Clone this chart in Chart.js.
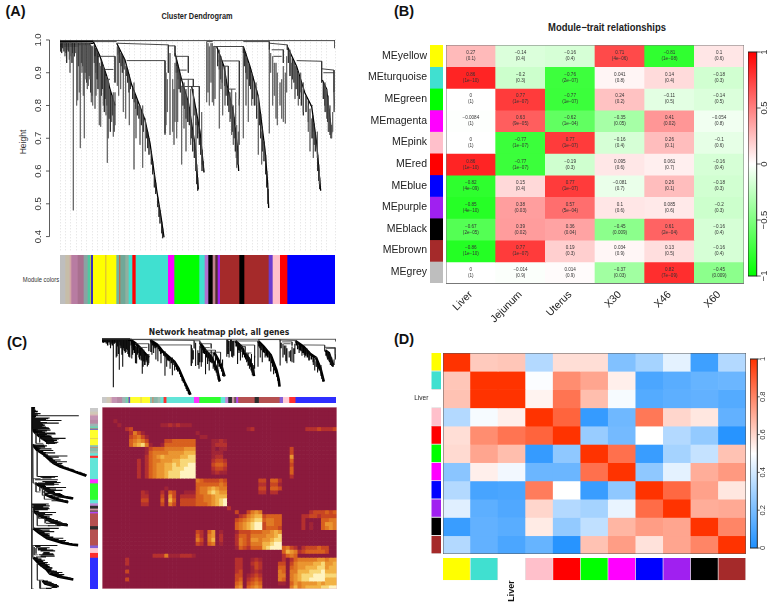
<!DOCTYPE html>
<html>
<head>
<meta charset="utf-8">
<title>WGCNA module figure</title>
<script src="https://cdn.jsdelivr.net/npm/chart.js@4/dist/chart.umd.min.js"></script>
<style>
  html, body { margin: 0; background: #fff; }
  body { position: relative; width: 777px; height: 605px; overflow: hidden; font-family: "Liberation Sans", sans-serif; }
  canvas { position: absolute; filter: blur(.3px); }
  .tag { position: absolute; white-space: nowrap; color: #111; transform: translate(-50%, -50%); }
</style>
</head>
<body>
<script>
// ---- dendrogram (same gene tree is used in panels A and C), x = leaf position, h = height
const leafCount = 825;
const heightTicks = [0.4, 0.5, 0.6, 0.7, 0.8, 0.9, 1.0];

const treeTrunks = [
  [[0, .996], [100, .996]],
  [[0, .991], [100, .99]],
  [[0, .986], [90, .986]],
  [[0, .981], [55, .981]],
  [[100, .995], [120, .95], [140, .89], [150, .85], [165, .80]],
  [[170, .99], [195, .939], [215, .863], [240, .797], [255, .756], [270, .685], [290, .542], [303, .461], [312, .398]],
  [[345, .96], [365, .878], [385, .81], [405, .68], [415, .544]],
  [[395, .858], [420, .72], [432, .596]],
  [[470, .98], [492, .919], [502, .858], [520, .78], [532, .675], [536, .60]],
  [[550, .98], [570, .919], [595, .827], [615, .665], [623, .563], [626, .487]],
  [[682, .98], [710, .919], [735, .837], [755, .797], [770, .685], [782, .54]],
  [[787, .878], [800, .85], [815, .715]]
];

const treeBrackets = [
  [[0, .998], [825, .998], [825, .975]],
  [[102, .995], [170, .995]],
  [[170, .99], [325, .985], [325, .90]],
  [[200, .937], [315, .937], [315, .715]],
  [[325, .982], [345, .982], [345, .95]],
  [[345, .95], [385, .95], [385, .90]],
  [[360, .908], [380, .908]],
  [[360, .88], [400, .88], [400, .858]],
  [[365, .858], [418, .858], [418, .715], [432, .596]],
  [[112, .95], [165, .95], [165, .87]],
  [[125, .91], [160, .91]],
  [[135, .88], [150, .88]],
  [[440, .995], [458, .995]],
  [[460, .98], [550, .98], [550, .96]],
  [[475, .936], [538, .936], [538, .80]],
  [[490, .92], [505, .92], [505, .85]],
  [[505, .85], [527, .85]],
  [[550, .995], [628, .995], [628, .97]],
  [[628, .99], [682, .985], [682, .97]],
  [[635, .97], [670, .97], [670, .93]],
  [[640, .95], [665, .95]],
  [[710, .937], [785, .935], [785, .87]],
  [[785, .912], [822, .908], [822, .84]],
  [[790, .90], [822, .90]],
  [[822, .84], [825, .78]],
  [[750, .80], [758, .80]]
];

// leaf drops: position, top height, bottom height
const dropLeaf = [10, 15, 22, 28, 30, 33, 40, 47, 50, 53, 58, 61, 66, 70, 73, 78, 82, 85, 90, 94, 98, 105, 108, 118, 122, 130, 138, 142, 145, 148, 155, 160, 165,
  172, 176, 182, 190, 197, 208, 222, 228, 240, 248, 256,
  315, 318, 322, 330, 338, 342, 345, 350, 353, 365, 372, 378, 385, 392, 400, 408, 425,
  440, 444, 448, 453, 457, 461, 465, 478, 483, 488, 495, 510, 515, 520, 527, 530, 535, 538,
  550, 558, 565, 575, 588, 595, 605,
  628, 632, 638, 643, 648, 652, 660, 665, 670, 676, 680, 690, 695, 705, 715, 722, 730, 745, 750, 755, 760, 772, 778, 795, 800, 805, 810, 815, 818, 822];
const dropTop = [.99, .99, .99, .99, .99, .99, .99, .99, .99, .99, .99, .99, .99, .99, .99, .99, .99, .99, .99, .98, .98, .95, .92, .93, .92, .92, .89, .88, .88, .85, .83, .84, .84,
  .98, .96, .94, .93, .92, .87, .87, .82, .80, .80, .76,
  .93, .90, .88, .96, .88, .85, .93, .92, .90, .86, .87, .85, .88, .85, .85, .75, .78,
  .995, .99, .98, .99, .99, .98, .98, .97, .95, .92, .92, .84, .85, .80, .84, .74, .72, .82,
  .96, .95, .93, .90, .87, .83, .72,
  .97, .96, .95, .93, .93, .90, .87, .88, .92, .90, .95, .97, .93, .92, .90, .90, .87, .80, .79, .76, .72, .72, .60, .87, .85, .83, .80, .74, .78, .84];
const dropBottom = [.975, .95, .97, .94, .90, .95, .48, .96, .80, .816, .84, .67, .90, .83, .70, .88, .85, .86, .88, .81, .80, .79, .83, .74, .735, .80, .77, .625, .70, .76, .75, .705, .74,
  .86, .83, .85, .78, .76, .74, .605, .70, .68, .61, .66,
  .71, .74, .78, .71, .72, .68, .75, .70, .75, .62, .73, .66, .75, .68, .70, .60, .60,
  .81, .84, .80, .87, .81, .80, .82, .73, .85, .77, .80, .75, .71, .68, .74, .61, .62, .68,
  .70, .80, .75, .80, .80, .65, .62,
  .715, .90, .80, .83, .76, .74, .80, .76, .75, .745, .84, .90, .85, .82, .80, .84, .78, .72, .66, .70, .64, .64, .56, .78, .76, .72, .71, .70, .72, .78];

// short dark fringe hanging off the trunks: position, top, bottom
const treeFringe = [
  [2, .99, .965], [5, .99, .96], [8, .99, .975], [12, .99, .965], [18, .99, .96], [20, .99, .93], [25, .99, .965], [36, .99, .93], [38, .99, .96], [43, .99, .95], [55, .99, .92], [64, .99, .93], [68, .99, .92], [75, .99, .90], [80, .99, .87], [87, .99, .89], [92, .985, .84], [96, .98, .83],
  [103, .985, .93], [107, .975, .90], [111, .97, .88], [114, .96, .85], [124, .94, .83], [127, .93, .85], [133, .91, .78], [136, .90, .82], [141, .885, .80], [146, .87, .76], [151, .845, .72], [157, .83, .77], [162, .81, .72],
  [174, .98, .955], [178, .972, .93], [183, .96, .92], [187, .955, .90], [192, .945, .91], [199, .925, .89], [203, .91, .87], [207, .895, .84], [211, .88, .85], [218, .855, .82], [223, .84, .81], [227, .83, .79], [232, .815, .77], [237, .80, .76], [244, .785, .74], [250, .77, .72], [259, .735, .70], [263, .72, .67], [267, .70, .65], [274, .66, .62], [278, .63, .59], [283, .59, .55], [287, .565, .53], [293, .52, .49], [297, .495, .46], [300, .48, .44], [305, .445, .41], [308, .425, .395],
  [349, .945, .90], [353, .925, .88], [357, .91, .85], [361, .895, .84], [369, .865, .80], [374, .845, .79], [378, .83, .76], [383, .815, .75], [388, .795, .74], [394, .755, .70], [398, .725, .66], [403, .695, .64], [407, .665, .60], [410, .62, .56], [413, .58, .54],
  [402, .82, .77], [408, .79, .74], [413, .76, .70], [418, .73, .68], [422, .70, .65], [426, .665, .62], [429, .63, .60],
  [473, .97, .92], [478, .955, .91], [482, .945, .88], [487, .93, .87], [494, .905, .86], [498, .88, .83], [503, .85, .80], [507, .84, .78], [512, .815, .76], [517, .795, .72], [522, .765, .70], [526, .73, .66], [529, .70, .64], [533, .66, .62],
  [553, .97, .92], [557, .96, .90], [561, .945, .88], [568, .925, .86], [572, .91, .85], [578, .89, .82], [583, .87, .80], [590, .845, .76], [598, .805, .74], [602, .775, .70], [607, .735, .66], [612, .69, .63], [617, .65, .59], [620, .60, .55], [624, .545, .50],
  [685, .97, .93], [690, .96, .89], [697, .945, .88], [702, .935, .87], [708, .92, .85], [713, .905, .83], [718, .89, .82], [724, .87, .80], [730, .85, .77], [738, .83, .78], [745, .815, .75], [758, .77, .70], [762, .745, .68], [766, .715, .66], [773, .65, .60], [776, .62, .57], [779, .58, .545],
  [790, .87, .82], [794, .86, .80], [798, .85, .78], [803, .825, .75], [807, .79, .72], [811, .76, .71], [813, .74, .70]
];

// module colour bar under the tree, in leaf positions
const stripColors = ['#bebebe', '#c6bda8', '#d3a5a5', '#b87ca2', '#a9708f', '#8aa3a3', '#4fc9a0', '#d8c820', '#3a30c0', '#ffff00', '#d8b040', '#ffff00', '#6fb3a2', '#c0704a', '#70a898', '#8fb0a0', '#40e0d0', '#ff0000',
  '#40e0d0', '#ff00ff', '#00ff00', '#40e0d0', '#b070d0', '#000000', '#c08090', '#503030', '#a020f0', '#a52a2a', '#000000', '#a52a2a', '#6a3ccf', '#ffc0cb', '#ff0000', '#0000ff'];
const stripWidths = [15, 13, 5, 19, 18, 12, 8, 2, 6, 37, 3, 30, 8, 4, 15, 10, 11, 10,
  97, 19, 75, 16, 11, 13, 8, 7, 7, 58, 15, 73, 12, 22, 22, 144];

// ---- panel B
const traitNames = ['Liver', 'Jejunum', 'Uterus', 'X30', 'X46', 'X60'];
const moduleNames = ['MEyellow', 'MEturquoise', 'MEgreen', 'MEmagenta', 'MEpink', 'MEred', 'MEblue', 'MEpurple', 'MEblack', 'MEbrown', 'MEgrey'];
const moduleSwatches = ['#ffff00', '#40e0d0', '#00ff00', '#ff00ff', '#ffc0cb', '#ff0000', '#0000ff', '#a020f0', '#000000', '#a52a2a', '#bebebe'];
const traitCor = [
  [0.27, -0.14, -0.16, 0.71, -0.81, 0.1],
  [0.86, -0.2, -0.76, 0.041, 0.14, -0.18],
  [0, 0.77, -0.77, 0.24, -0.11, -0.14],
  [-0.0084, 0.63, -0.62, -0.35, 0.41, -0.054],
  [0, -0.77, 0.77, -0.16, 0.26, -0.1],
  [0.86, -0.77, -0.19, 0.095, 0.061, -0.16],
  [-0.82, 0.15, 0.77, -0.081, 0.26, -0.18],
  [-0.85, 0.38, 0.57, 0.1, 0.085, -0.2],
  [-0.67, 0.39, 0.36, -0.45, 0.61, -0.16],
  [-0.86, 0.77, 0.19, 0.034, 0.13, -0.16],
  [0, -0.014, 0.014, -0.37, 0.82, -0.45]
];
const traitP = [
  ['0.1', '0.4', '0.4', '4e-06', '1e-08', '0.6'],
  ['1e-10', '0.3', '2e-07', '0.8', '0.4', '0.3'],
  ['1', '1e-07', '1e-07', '0.2', '0.5', '0.5'],
  ['1', '9e-05', '1e-04', '0.05', '0.02', '0.8'],
  ['1', '1e-07', '1e-07', '0.4', '0.1', '0.6'],
  ['1e-10', '1e-07', '0.3', '0.6', '0.7', '0.4'],
  ['4e-09', '0.4', '1e-07', '0.7', '0.1', '0.3'],
  ['4e-10', '0.03', '5e-04', '0.6', '0.6', '0.3'],
  ['2e-05', '0.02', '0.04', '0.009', '2e-04', '0.4'],
  ['1e-10', '1e-07', '0.3', '0.9', '0.5', '0.4'],
  ['1', '0.9', '0.9', '0.03', '7e-09', '0.009']
];
const corBarTicks = [-1, -0.5, 0, 0.5, 1];

// ---- panel C, TOM levels 0-9 per cell (rows top to bottom, groups of ten columns)
const tomPalette = ['#8b1a3d', '#a02436', '#b5302e', '#c84622', '#d8601e', '#e07a24', '#ea9530', '#f2b345', '#f8d878', '#fff3c0'];
const tomRows = [
  '',
  '',
  '',
  '0001000000',
  '0000100000 0000011212 1110000000',
  '0000002300 0000000000 0000000000 0000000120 0000000000 0022232223',
  '0000000253 1000000000 0000100000',
  '0000000345 3100000000 0000011000',
  '0000000456 5300003344 4444000011 2100000000',
  '0000000467 8510014444 4444000012 2200000000',
  '0000000000 0134445555 5666000010 1100000000 0000000030',
  '0000000000 0145555666 6777000011 1000000000 0000000030',
  '0000000000 0245676666 7788000012 2000000000 0000000060',
  '0000000002 0245566677 8888000023 3200000000 0000000040',
  '0000000002 0245667787 8899000034 4300000000 0000000030',
  '0000000002 0245667788 8999000023 3200000000 0000000040',
  '0000000002 0245667888 9999000012 1100000000 0000000040',
  '0000000002 0245667888 9999000000 0000000000 0000000020',
  '0000000000 0000000000 0000543333 4300000000 3304420000',
  '0000000000 0000000000 0000444444 5400000000 2203310000',
  '0000000000 0000001000 0000455676 5500000000 3304430000',
  '0000000000 2100020430 0111455787 6600000000 2202200000',
  '0000000000 2200030630 2222445567 7700000000',
  '0000000000 3300040740 3333445567 8900000000',
  '0000000000 2200030530 3333444567 8900000000',
  '0000000000 0000000000 0000000000 0020000000',
  '0000000000 0000000000 0000000000 0000300356 5000000000 0002333434',
  '0000000000 0000000000 0000000000 0000023567 7344440000 0223323333',
  '0000000000 0000000000 0000000000 0000345678 8455440000 0200004455',
  '0000000000 0000000000 0000000000 0000456789 9355440000 0201004665',
  '0000000000 0000000000 0000000000 0000456789 9344430000 0201004565',
  '0000000000 0000000000 0000320460 1000133344 4556760000',
  '0000000000 0000000000 0000420560 2000244355 5566780000',
  '0000000000 0000000000 0000530570 2000254366 5667880000',
  '0000000000 0000000000 0000320450 1000254355 5778990000',
  '0000000000 0000000000 0000000000 0000143244 4789994532 0233343300',
  '0000000000 0000000000 0000000000 0000000000 0000004765 2344444300',
  '0000000000 0002225111 2221000000 0000000000 0000002454',
  '0000002000 0000000000 0000000000 0000220012 1000002024 5555566566',
  '0000002000 0000000000 0000000000 0000220023 2000033035 6666778667',
  '0000000000 0000000000 0000000000 0000220013 2000044045 6677788677',
  '0000003000 0000000000 0000000000 0000230012 1000054055 7778889777',
  '0000000000 0000000000 0000000000 0000330123 2000055056 7888999888',
  '0000003000 0000000000 0000000000 0000340234 3000054056 7889999777',
  '0000000000 0000000000 0000000000 0000450345 4000011046 5666676777',
  '0000000000 0000000000 0000000000 0000560456 5000000057 5677778899'
];
const tomColumns = 60;

// ---- panel D
const adjSwatches = ['#ffff00', '#40e0d0', '#ffffff', '#ffc0cb', '#ff0000', '#00ff00', '#ff00ff', '#0000ff', '#a020f0', '#000000', '#a52a2a'];
const adjLabels = ['', '', 'Liver', '', '', '', '', '', '', '', ''];
const adjMatrix = [
  [1, .63, .64, .33, .58, .58, .22, .3, .44, .07, .33],
  [.64, 1, 1, .49, .78, .72, .54, .1, .13, .16, .17],
  [.65, 1, 1, .53, .84, .66, .48, .12, .14, .15, .12],
  [.33, .48, .54, 1, .88, .05, .18, .83, .6, .56, .15],
  [.58, .78, .84, .88, 1, .27, .19, .5, .33, .26, .02],
  [.59, .72, .66, .05, .25, 1, .85, .06, .3, .37, .65],
  [.24, .54, .47, .17, .17, .85, 1, .25, .44, .7, .75],
  [.33, .09, .1, .82, .5, .06, .25, 1, .87, .73, .56],
  [.43, .14, .11, .6, .33, .3, .45, .86, 1, .7, .71],
  [.06, .15, .13, .55, .26, .36, .68, .74, .72, 1, .8],
  [.33, .15, .1, .16, .02, .65, .74, .57, .72, .8, 1]
];
const adjBarTicks = [0, 0.2, 0.4, 0.6, 0.8, 1];

// ---- helpers
const FONT = '"Liberation Sans", Arial, sans-serif';

function mix(a, b, t) {
  const v = a.map((c, i) => Math.round(c + (b[i] - c) * t));
  return `rgb(${v[0]},${v[1]},${v[2]})`;
}
function corColor(v) {
  return v < 0 ? mix([255, 255, 255], [0, 255, 0], -v) : mix([255, 255, 255], [255, 0, 0], v);
}
function adjColor(v) {
  return v < 0.5 ? mix([30, 144, 255], [255, 255, 255], v / 0.5) : mix([255, 255, 255], [255, 51, 0], (v - 0.5) / 0.5);
}

// R style axis: line only between first and last tick, rotated labels, box around plot
Chart.register({
  id: 'rAxis',
  afterDraw(chart, args, o) {
    const ctx = chart.ctx, a = chart.chartArea;
    if (o.box) {
      ctx.save();
      ctx.strokeStyle = o.box;
      ctx.lineWidth = o.boxWidth || 1;
      ctx.strokeRect(a.left, a.top, a.width, a.height);
      ctx.restore();
    }
    if (!o.axis) return;
    const s = chart.scales[o.axis];
    const dir = o.side === 'left' ? -1 : 1;
    const x0 = (o.side === 'left' ? a.left : a.right) + dir * o.gap;
    const px = s.ticks.map(t => s.getPixelForValue(t.value));
    ctx.save();
    ctx.strokeStyle = o.color;
    ctx.fillStyle = o.color;
    ctx.lineWidth = 0.8;
    ctx.beginPath();
    if (o.gap > 0) {
      ctx.moveTo(x0, px[0]);
      ctx.lineTo(x0, px[px.length - 1]);
    }
    px.forEach(p => { ctx.moveTo(x0, p); ctx.lineTo(x0 + dir * o.tick, p); });
    ctx.stroke();
    ctx.font = o.font;
    ctx.textAlign = 'center';
    ctx.textBaseline = 'middle';
    s.ticks.forEach((t, i) => {
      ctx.save();
      ctx.translate(x0 + dir * o.label, px[i]);
      ctx.rotate(-Math.PI / 2);
      const txt = (o.decimals ? t.value.toFixed(o.decimals) : String(t.value)).replace('-', '\u2212');
      ctx.fillText(txt, 0, 0);
      ctx.restore();
    });
    ctx.restore();
  }
});

// correlation and p value text in the cells of panel B
const cellText = {
  id: 'cellText',
  afterDatasetsDraw(chart) {
    const { ctx, scales } = chart;
    ctx.save();
    ctx.font = '4.6px ' + FONT;
    ctx.fillStyle = '#333';
    ctx.textAlign = 'center';
    ctx.textBaseline = 'middle';
    traitCor.forEach((row, r) => row.forEach((v, c) => {
      const x = scales.x.getPixelForValue(c), y = scales.y.getPixelForValue(r + 0.5);
      ctx.fillText(String(v).replace('-', '\u2212'), x, y - 3);
      ctx.fillText('(' + traitP[r][c].replace('-', '\u2212') + ')', x, y + 3);
    }));
    ctx.restore();
  }
};

function addChart(left, top, width, height, config, css) {
  const canvas = document.createElement('canvas');
  canvas.width = width;
  canvas.height = height;
  canvas.style.left = left + 'px';
  canvas.style.top = top + 'px';
  if (css) Object.assign(canvas.style, css);
  document.body.appendChild(canvas);
  const opts = config.options || {};
  opts.responsive = false;
  opts.animation = false;
  opts.devicePixelRatio = 1;
  opts.plugins = Object.assign({ legend: { display: false }, tooltip: { enabled: false } }, opts.plugins);
  opts.layout = opts.layout || { padding: 0 };
  config.options = opts;
  return new Chart(canvas, config);
}

function addText(text, x, y, css) {
  const d = document.createElement('div');
  d.className = 'tag';
  d.textContent = text;
  d.style.cssText = `left:${x}px;top:${y}px;` + css;
  document.body.appendChild(d);
}

function hiddenScale(extra) {
  return Object.assign({ display: false, grid: { display: false } }, extra);
}

// tree as line datasets, swap = lay it on its side
function treeDatasets(swap, widths) {
  const toPoints = lines => {
    const pts = [];
    lines.forEach(line => {
      line.forEach(p => pts.push(swap ? { x: p[1], y: p[0] } : { x: p[0], y: p[1] }));
      pts.push(swap ? { x: null, y: line[0][0] } : { x: line[0][0], y: null });
    });
    return pts;
  };
  const dropLines = dropLeaf.map((x, i) => [[x, dropTop[i]], [x, dropBottom[i]]]);
  const fringeLines = treeFringe.map(f => [[f[0], f[1]], [f[0], f[2]]]);
  const line = (lines, color, w) => ({ data: toPoints(lines), borderColor: color, borderWidth: w, showLine: true, pointRadius: 0, spanGaps: false });
  return [
    line(dropLines, widths.dropColor, widths.drop),
    line(fringeLines, widths.fringeColor, widths.fringe),
    line(treeBrackets, '#333', widths.bracket),
    line(treeTrunks, '#000', widths.trunk)
  ];
}

// one stacked bar per strip, horizontal or vertical
function stripChart(left, top, width, height, vertical, css) {
  const datasets = stripColors.map((c, i) => ({ data: [stripWidths[i]], backgroundColor: c, stack: 'm', barPercentage: 1, categoryPercentage: 1 }));
  const total = stripWidths.reduce((a, b) => a + b, 0);
  const valueScale = hiddenScale({ stacked: true, min: 0, max: total, reverse: vertical });
  const catScale = hiddenScale({ stacked: true });
  addChart(left, top, width, height, {
    type: 'bar',
    data: { labels: ['modules'], datasets },
    options: {
      indexAxis: vertical ? 'x' : 'y',
      scales: vertical ? { x: catScale, y: valueScale } : { x: valueScale, y: catScale }
    }
  }, css);
}

// heat cells are stacked unit bars, one dataset per row, coloured by the matrix value
function heatDatasets(nRows, nCols, colorAt) {
  const datasets = [];
  for (let r = 0; r < nRows; r++) {
    const fills = [];
    for (let c = 0; c < nCols; c++) fills.push(colorAt(r, c));
    datasets.push({ data: fills.map(() => 1), backgroundColor: fills, barPercentage: 1, categoryPercentage: 1 });
  }
  return datasets;
}

function columnLabels(n) {
  return Array.from({ length: n }, (_, i) => String(i));
}

// swatch column with row names on its left, canvas is 10px taller each way for the label overhang
function swatchColumn(left, top, width, height, colors, labels, labelRoom, font, border) {
  addChart(left, top - 10, width, height + 20, {
    type: 'bar',
    data: {
      labels: ['swatch'],
      datasets: colors.map(c => ({ data: [1], backgroundColor: c, barPercentage: 1, categoryPercentage: 1, borderColor: border || c, borderWidth: border ? { bottom: 1 } : 0 }))
    },
    options: {
      layout: { padding: { top: 10, bottom: 10 } },
      scales: {
        x: hiddenScale({ stacked: true }),
        y: {
          stacked: true, reverse: true, min: 0, max: colors.length,
          position: 'left',
          border: { display: false },
          grid: { display: false, drawTicks: false },
          afterBuildTicks: s => { s.ticks = labels.map((_, i) => ({ value: i + 0.5 })); },
          afterFit: s => { s.width = labelRoom; },
          ticks: { autoSkip: false, padding: 3, color: '#222', font, callback: (v, i) => labels[i] }
        }
      }
    }
  });
}

function colorBar(left, top, width, height, plotWidth, pad, stops, tickValues, min, max, font, labelAt, tickLen, decimals) {
  addChart(left, top, width, height, {
    type: 'bar',
    data: {
      labels: ['scale'],
      datasets: [{
        data: [[min, max]],
        barPercentage: 1,
        categoryPercentage: 1,
        backgroundColor: ctx => {
          const a = ctx.chart.chartArea;
          if (!a) return stops[0];
          const g = ctx.chart.ctx.createLinearGradient(0, a.bottom, 0, a.top);
          stops.forEach((c, i) => g.addColorStop(i / (stops.length - 1), c));
          return g;
        }
      }]
    },
    options: {
      layout: { padding: { top: pad, bottom: pad, left: 0, right: width - plotWidth } },
      scales: {
        x: hiddenScale(),
        y: {
          display: true, min, max,
          border: { display: false },
          grid: { display: false, drawTicks: false },
          afterBuildTicks: s => { s.ticks = tickValues.map(v => ({ value: v })); },
          afterFit: s => { s.width = 0; },
          ticks: { display: false }
        }
      },
      plugins: { rAxis: { box: '#222', axis: 'y', side: 'right', gap: 0, tick: tickLen, label: labelAt, font, color: '#333', decimals } }
    }
  });
}

// ---- panel A
addText('(A)', 15.5, 11, 'font:bold 14.5px ' + FONT);
addText('Cluster Dendrogram', 197, 16, 'font:bold 9.2px ' + FONT + ';color:#222;transform:translate(-50%,-50%) scaleX(.8)');
addText('Height', 22.7, 142, 'font:8.5px ' + FONT + ';transform:translate(-50%,-50%) rotate(-90deg);color:#333');
addText('Module colors', 40.5, 279, 'font:7.5px ' + FONT + ';color:#333;transform:translate(-50%,-50%) scaleX(.78)');

const treeLookA = { drop: 0.6, dropColor: '#555', fringe: 0.7, fringeColor: '#222', bracket: 0.9, trunk: 1.3 };
addChart(0, 0, 340, 255, {
  type: 'scatter',
  data: { datasets: treeDatasets(false, treeLookA) },
  options: {
    layout: { padding: { left: 60, top: 39.3, right: 5, bottom: 2.7 } },
    scales: {
      x: {
        type: 'linear', min: 0, max: leafCount,
        border: { display: false, dash: [1, 2] },
        grid: { color: '#dedede', drawTicks: false },
        afterFit: s => { s.height = 0; },
        ticks: { display: false, stepSize: 16, autoSkip: false, maxTicksLimit: 100 }
      },
      y: {
        min: 0.352, max: 1.002,
        border: { display: false },
        grid: { display: false, drawTicks: false },
        afterBuildTicks: s => { s.ticks = heightTicks.map(v => ({ value: v })); },
        afterFit: s => { s.width = 0; },
        ticks: { display: false }
      }
    },
    plugins: { rAxis: { axis: 'y', side: 'left', gap: 10.5, tick: 3.5, label: 11.5, font: '9.5px ' + FONT, color: '#333', decimals: 1 } }
  }
});
stripChart(60, 255, 275, 49, false);

// ---- panel B
addText('(B)', 404, 11, 'font:bold 14.5px ' + FONT);
addText('Module\u2212trait relationships', 606.7, 26.7, 'font:bold 10.5px ' + FONT + ';color:#222;transform:translate(-50%,-50%) scaleX(.9)');
swatchColumn(360, 44.5, 83.3, 238.5, moduleSwatches, moduleNames, 70, { size: 10.5, family: FONT });
addChart(446, 44.5, 298.5, 282, {
  type: 'bar',
  data: {
    labels: traitNames,
    datasets: heatDatasets(moduleNames.length, traitNames.length, (r, c) => corColor(traitCor[r][c]))
  },
  options: {
    scales: {
      x: {
        stacked: true,
        border: { display: false },
        grid: { display: false, drawTicks: false },
        afterFit: s => { s.height = 43.5; },
        ticks: { minRotation: 45, maxRotation: 45, padding: 5, color: '#222', font: { size: 10.5, family: FONT } }
      },
      y: hiddenScale({ stacked: true, reverse: true, min: 0, max: moduleNames.length })
    },
    plugins: { rAxis: { box: '#777', boxWidth: 1 } }
  },
  plugins: [cellText]
});
colorBar(748.3, 41.7, 28.7, 244.3, 9.4, 10, ['#00ff00', '#ffffff', '#ff0000'], corBarTicks, -1, 1, '9.5px ' + FONT, 7.5, 4);

// ---- panel C
addText('(C)', 17, 341.6, 'font:bold 14.5px ' + FONT);
addText('Network heatmap plot, all genes', 219, 331.7, 'font:bold 8px "DejaVu Sans",' + FONT + ';color:#222;transform:translate(-50%,-50%) scaleX(.95)');

const treeLookC = { drop: 1.1, dropColor: '#111', fringe: 1.5, fringeColor: '#000', bracket: 0.8, trunk: 2.6 };
addChart(102, 338, 234, 58, {
  type: 'scatter',
  data: { datasets: treeDatasets(false, treeLookC) },
  options: {
    scales: {
      x: hiddenScale({ type: 'linear', min: 0, max: leafCount }),
      y: hiddenScale({ min: 0.385, max: 1.012 })
    }
  }
});
addChart(31, 407, 56, 182, {
  type: 'scatter',
  data: { datasets: treeDatasets(true, treeLookC) },
  options: {
    scales: {
      x: hiddenScale({ type: 'linear', min: 0.39, max: 1.005, reverse: true }),
      y: hiddenScale({ min: 0, max: leafCount, reverse: true })
    }
  }
});
stripChart(102, 397.3, 234.5, 6.5, false, { opacity: 0.82 });
stripChart(90, 407.5, 8.3, 181.5, true, { opacity: 0.82 });
addChart(101.7, 406.7, 235, 182.6, {
  type: 'bar',
  data: {
    labels: columnLabels(tomColumns),
    datasets: heatDatasets(tomRows.length, tomColumns, (r, c) => {
      const row = tomRows[r].replace(/ /g, '');
      return tomPalette[+(row[c] || 0)];
    })
  },
  options: {
    scales: {
      x: hiddenScale({ stacked: true }),
      y: hiddenScale({ stacked: true, reverse: true, min: 0, max: tomRows.length })
    },
    plugins: { rAxis: { box: '#e8c8d0', boxWidth: 1 } }
  }
}, { filter: 'blur(.55px)' });

// ---- panel D
addText('(D)', 404, 339, 'font:bold 14.5px ' + FONT);
swatchColumn(400, 353.3, 41.3, 201.7, adjSwatches, adjLabels, 31.3, { size: 6.5, family: FONT }, '#e0e0e0');
addChart(442.7, 353.3, 303.5, 201.7, {
  type: 'bar',
  data: {
    labels: columnLabels(adjSwatches.length),
    datasets: heatDatasets(adjSwatches.length, adjSwatches.length, (r, c) => adjColor(adjMatrix[r][c]))
  },
  options: {
    scales: {
      x: hiddenScale({ stacked: true }),
      y: hiddenScale({ stacked: true, reverse: true, min: 0, max: adjSwatches.length })
    },
    plugins: { rAxis: { box: '#555', boxWidth: 1 } }
  }
});
addChart(442.7, 557.7, 303.5, 47, {
  type: 'bar',
  data: {
    labels: adjLabels,
    datasets: [{ data: adjLabels.map(() => 1), backgroundColor: adjSwatches, barPercentage: 1, categoryPercentage: 1, borderColor: '#e0e0e0', borderWidth: { right: 1 } }]
  },
  options: {
    scales: {
      x: {
        border: { display: false },
        grid: { display: false, drawTicks: false },
        afterFit: s => { s.height = 24.7; },
        ticks: { autoSkip: false, minRotation: 90, maxRotation: 90, padding: 0, color: '#111', font: { size: 9, weight: 'bold', family: FONT } }
      },
      y: hiddenScale({ min: 0, max: 1 })
    }
  }
});
colorBar(750, 349, 27, 209.3, 7.3, 10, ['#1e90ff', '#ffffff', '#ff3300'], adjBarTicks, 0, 1, '7.5px ' + FONT, 6, 2.5, 0);
</script>
</body>
</html>
